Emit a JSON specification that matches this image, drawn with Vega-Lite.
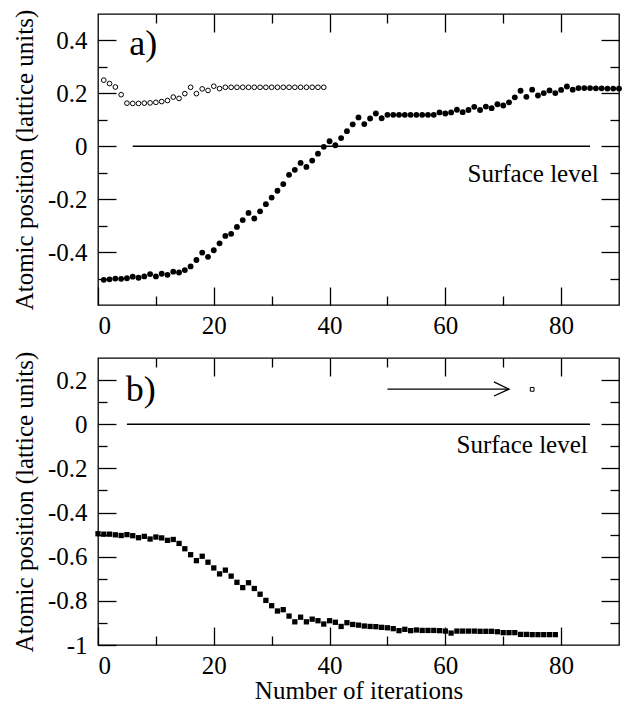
{
  "$schema": "https://vega.github.io/schema/vega-lite/v6.json",
  "padding": {"left": 11, "top": 8, "right": 5, "bottom": 5},
  "spacing": 11,
  "config": {
    "font": "Liberation Serif",
    "view": {"stroke": "black", "strokeWidth": 1.3},
    "axis": {"grid": false, "domain": false, "tickColor": "black", "tickWidth": 1.3, "labelFont": "Liberation Serif", "labelFontSize": 25, "labelColor": "black", "titleFont": "Liberation Serif", "titleFontSize": 25, "titleFontWeight": "normal", "titleColor": "black"}
  },
  "datasets": {
    "filledA": [
      {"it": 1, "pos": -0.505}, {"it": 2, "pos": -0.503}, {"it": 3, "pos": -0.5}, {"it": 4, "pos": -0.501}, {"it": 5, "pos": -0.499},
      {"it": 6, "pos": -0.493}, {"it": 7, "pos": -0.497}, {"it": 8, "pos": -0.492}, {"it": 9, "pos": -0.483}, {"it": 10, "pos": -0.492},
      {"it": 11, "pos": -0.482}, {"it": 12, "pos": -0.486}, {"it": 13, "pos": -0.474}, {"it": 14, "pos": -0.477}, {"it": 15, "pos": -0.468},
      {"it": 16, "pos": -0.454}, {"it": 17, "pos": -0.43}, {"it": 18, "pos": -0.402}, {"it": 19, "pos": -0.418}, {"it": 20, "pos": -0.393},
      {"it": 21, "pos": -0.367}, {"it": 22, "pos": -0.339}, {"it": 23, "pos": -0.331}, {"it": 24, "pos": -0.305}, {"it": 25, "pos": -0.279},
      {"it": 26, "pos": -0.252}, {"it": 27, "pos": -0.273}, {"it": 28, "pos": -0.246}, {"it": 29, "pos": -0.219}, {"it": 30, "pos": -0.194},
      {"it": 31, "pos": -0.168}, {"it": 32, "pos": -0.143}, {"it": 33, "pos": -0.108}, {"it": 34, "pos": -0.089}, {"it": 35, "pos": -0.063},
      {"it": 36, "pos": -0.078}, {"it": 37, "pos": -0.054}, {"it": 38, "pos": -0.028}, {"it": 39, "pos": -0.002}, {"it": 40, "pos": 0.019},
      {"it": 41, "pos": 0.004}, {"it": 42, "pos": 0.031}, {"it": 43, "pos": 0.057}, {"it": 44, "pos": 0.083}, {"it": 45, "pos": 0.109},
      {"it": 46, "pos": 0.084}, {"it": 47, "pos": 0.105}, {"it": 48, "pos": 0.124}, {"it": 49, "pos": 0.106}, {"it": 50, "pos": 0.119},
      {"it": 51, "pos": 0.119}, {"it": 52, "pos": 0.119}, {"it": 53, "pos": 0.119}, {"it": 54, "pos": 0.119}, {"it": 55, "pos": 0.119},
      {"it": 56, "pos": 0.119}, {"it": 57, "pos": 0.119}, {"it": 58, "pos": 0.119}, {"it": 59, "pos": 0.128}, {"it": 60, "pos": 0.124},
      {"it": 61, "pos": 0.128}, {"it": 62, "pos": 0.138}, {"it": 63, "pos": 0.129}, {"it": 64, "pos": 0.137}, {"it": 65, "pos": 0.149},
      {"it": 66, "pos": 0.137}, {"it": 67, "pos": 0.15}, {"it": 68, "pos": 0.144}, {"it": 69, "pos": 0.159}, {"it": 70, "pos": 0.154},
      {"it": 71, "pos": 0.166}, {"it": 72, "pos": 0.185}, {"it": 73, "pos": 0.21}, {"it": 74, "pos": 0.187}, {"it": 75, "pos": 0.214},
      {"it": 76, "pos": 0.192}, {"it": 77, "pos": 0.201}, {"it": 78, "pos": 0.211}, {"it": 79, "pos": 0.201}, {"it": 80, "pos": 0.213},
      {"it": 81, "pos": 0.226}, {"it": 82, "pos": 0.214}, {"it": 83, "pos": 0.22}, {"it": 84, "pos": 0.22}, {"it": 85, "pos": 0.22},
      {"it": 86, "pos": 0.219}, {"it": 87, "pos": 0.219}, {"it": 88, "pos": 0.218}, {"it": 89, "pos": 0.218}, {"it": 90, "pos": 0.218}
    ],
    "openA": [
      {"it": 1, "pos": 0.25}, {"it": 2, "pos": 0.237}, {"it": 3, "pos": 0.224}, {"it": 4, "pos": 0.195}, {"it": 5, "pos": 0.163},
      {"it": 6, "pos": 0.162}, {"it": 7, "pos": 0.162}, {"it": 8, "pos": 0.163}, {"it": 9, "pos": 0.164}, {"it": 10, "pos": 0.166},
      {"it": 11, "pos": 0.169}, {"it": 12, "pos": 0.173}, {"it": 13, "pos": 0.186}, {"it": 14, "pos": 0.181}, {"it": 15, "pos": 0.199},
      {"it": 16, "pos": 0.223}, {"it": 17, "pos": 0.199}, {"it": 18, "pos": 0.217}, {"it": 19, "pos": 0.211}, {"it": 20, "pos": 0.227},
      {"it": 21, "pos": 0.218}, {"it": 22, "pos": 0.223}, {"it": 23, "pos": 0.223}, {"it": 24, "pos": 0.223}, {"it": 25, "pos": 0.223},
      {"it": 26, "pos": 0.223}, {"it": 27, "pos": 0.223}, {"it": 28, "pos": 0.223}, {"it": 29, "pos": 0.223}, {"it": 30, "pos": 0.223},
      {"it": 31, "pos": 0.223}, {"it": 32, "pos": 0.223}, {"it": 33, "pos": 0.223}, {"it": 34, "pos": 0.223}, {"it": 35, "pos": 0.223},
      {"it": 36, "pos": 0.223}, {"it": 37, "pos": 0.223}, {"it": 38, "pos": 0.223}, {"it": 39, "pos": 0.223}
    ],
    "squaresB": [
      {"it": 0, "pos": -0.496}, {"it": 1, "pos": -0.498}, {"it": 2, "pos": -0.498}, {"it": 3, "pos": -0.501}, {"it": 4, "pos": -0.504},
      {"it": 5, "pos": -0.5}, {"it": 6, "pos": -0.505}, {"it": 7, "pos": -0.514}, {"it": 8, "pos": -0.508}, {"it": 9, "pos": -0.52},
      {"it": 10, "pos": -0.511}, {"it": 11, "pos": -0.515}, {"it": 12, "pos": -0.526}, {"it": 13, "pos": -0.522}, {"it": 14, "pos": -0.54},
      {"it": 15, "pos": -0.564}, {"it": 16, "pos": -0.591}, {"it": 17, "pos": -0.618}, {"it": 18, "pos": -0.598}, {"it": 19, "pos": -0.625},
      {"it": 20, "pos": -0.651}, {"it": 21, "pos": -0.678}, {"it": 22, "pos": -0.661}, {"it": 23, "pos": -0.688}, {"it": 24, "pos": -0.716},
      {"it": 25, "pos": -0.74}, {"it": 26, "pos": -0.718}, {"it": 27, "pos": -0.744}, {"it": 28, "pos": -0.77}, {"it": 29, "pos": -0.798},
      {"it": 30, "pos": -0.822}, {"it": 31, "pos": -0.846}, {"it": 32, "pos": -0.84}, {"it": 33, "pos": -0.869}, {"it": 34, "pos": -0.895},
      {"it": 35, "pos": -0.874}, {"it": 36, "pos": -0.895}, {"it": 37, "pos": -0.883}, {"it": 38, "pos": -0.89}, {"it": 39, "pos": -0.905},
      {"it": 40, "pos": -0.89}, {"it": 41, "pos": -0.897}, {"it": 42, "pos": -0.916}, {"it": 43, "pos": -0.899}, {"it": 44, "pos": -0.907},
      {"it": 45, "pos": -0.91}, {"it": 46, "pos": -0.914}, {"it": 47, "pos": -0.916}, {"it": 48, "pos": -0.917}, {"it": 49, "pos": -0.92},
      {"it": 50, "pos": -0.922}, {"it": 51, "pos": -0.926}, {"it": 52, "pos": -0.935}, {"it": 53, "pos": -0.929}, {"it": 54, "pos": -0.935},
      {"it": 55, "pos": -0.932}, {"it": 56, "pos": -0.934}, {"it": 57, "pos": -0.934}, {"it": 58, "pos": -0.934}, {"it": 59, "pos": -0.935},
      {"it": 60, "pos": -0.937}, {"it": 61, "pos": -0.946}, {"it": 62, "pos": -0.937}, {"it": 63, "pos": -0.937}, {"it": 64, "pos": -0.937},
      {"it": 65, "pos": -0.937}, {"it": 66, "pos": -0.938}, {"it": 67, "pos": -0.938}, {"it": 68, "pos": -0.938}, {"it": 69, "pos": -0.94},
      {"it": 70, "pos": -0.944}, {"it": 71, "pos": -0.944}, {"it": 72, "pos": -0.944}, {"it": 73, "pos": -0.952}, {"it": 74, "pos": -0.952},
      {"it": 75, "pos": -0.953}, {"it": 76, "pos": -0.953}, {"it": 77, "pos": -0.953}, {"it": 78, "pos": -0.953}, {"it": 79, "pos": -0.953}
    ]
  },
  "vconcat": [
    {
      "width": 521,
      "height": 291,
      "resolve": {"axis": {"x": "independent", "y": "independent"}},
      "layer": [
        {
          "data": {"name": "filledA"},
          "mark": {"type": "circle", "color": "black", "opacity": 1, "size": 34},
          "encoding": {
            "x": {"field": "it", "type": "quantitative", "scale": {"domain": [0, 90], "nice": false, "zero": false},
                  "axis": {"orient": "bottom", "values": [0, 20, 40, 60, 80], "tickSize": -18, "labelPadding": 26, "labelFont": "Liberation Serif", "title": null}},
            "y": {"field": "pos", "type": "quantitative", "scale": {"domain": [-0.6, 0.5], "nice": false, "zero": false},
                  "axis": {"orient": "left", "values": [-0.4, -0.2, 0, 0.2, 0.4], "tickSize": -18, "labelPadding": 29, "labelFont": "Liberation Serif",
                           "labelExpr": "(datum.value < 0 ? '-' : '') + format(abs(datum.value), '~g')",
                           "title": "Atomic position (lattice units)", "titleFont": "Liberation Serif", "titlePadding": 10}}
          }
        },
        {
          "data": {"name": "openA"},
          "mark": {"type": "point", "shape": "circle", "filled": false, "color": "black", "strokeWidth": 1, "size": 22, "opacity": 1},
          "encoding": {
            "x": {"field": "it", "type": "quantitative", "scale": {"domain": [0, 90], "nice": false, "zero": false},
                  "axis": {"orient": "bottom", "values": [10, 30, 50, 70], "tickSize": -9, "labels": false, "title": null}},
            "y": {"field": "pos", "type": "quantitative", "scale": {"domain": [-0.6, 0.5], "nice": false, "zero": false},
                  "axis": {"orient": "left", "values": [-0.5, -0.3, -0.1, 0.1, 0.3], "tickSize": -9, "labels": false, "title": null}}
          }
        },
        {
          "data": {"values": [{"x1": 6, "x2": 85, "y": 0}]},
          "mark": {"type": "rule", "color": "black", "strokeWidth": 1.3},
          "encoding": {
            "x": {"field": "x1", "type": "quantitative", "scale": {"domain": [0, 90], "nice": false, "zero": false},
                  "axis": {"orient": "top", "values": [20, 40, 60, 80], "tickSize": -18, "labels": false, "title": null}},
            "x2": {"field": "x2"},
            "y": {"field": "y", "type": "quantitative", "scale": {"domain": [-0.6, 0.5], "nice": false, "zero": false},
                  "axis": {"orient": "right", "values": [-0.4, -0.2, 0, 0.2, 0.4], "tickSize": -18, "labels": false, "title": null}}
          }
        },
        {
          "data": {"values": [{"x": 7.8, "y": 0.385, "label": "a)"}]},
          "mark": {"type": "text", "fontSize": 36, "font": "Liberation Serif", "color": "black", "align": "center", "baseline": "middle"},
          "encoding": {
            "x": {"field": "x", "type": "quantitative", "scale": {"domain": [0, 90], "nice": false, "zero": false},
                  "axis": {"orient": "top", "values": [10, 30, 50, 70], "tickSize": -9, "labels": false, "title": null}},
            "y": {"field": "y", "type": "quantitative", "scale": {"domain": [-0.6, 0.5], "nice": false, "zero": false},
                  "axis": {"orient": "right", "values": [-0.5, -0.3, -0.1, 0.1, 0.3], "tickSize": -9, "labels": false, "title": null}},
            "text": {"field": "label"}
          }
        },
        {
          "data": {"values": [{"x": 86.5, "y": -0.103, "label": "Surface level"}]},
          "mark": {"type": "text", "fontSize": 25, "font": "Liberation Serif", "color": "black", "align": "right", "baseline": "middle"},
          "encoding": {
            "x": {"field": "x", "type": "quantitative", "scale": {"domain": [0, 90], "nice": false, "zero": false}, "axis": null},
            "y": {"field": "y", "type": "quantitative", "scale": {"domain": [-0.6, 0.5], "nice": false, "zero": false}, "axis": null},
            "text": {"field": "label"}
          }
        }
      ]
    },
    {
      "width": 521,
      "height": 287,
      "resolve": {"axis": {"x": "independent", "y": "independent"}},
      "layer": [
        {
          "data": {"name": "squaresB"},
          "mark": {"type": "square", "color": "black", "opacity": 1, "size": 28},
          "encoding": {
            "x": {"field": "it", "type": "quantitative", "scale": {"domain": [0, 90], "nice": false, "zero": false},
                  "axis": {"orient": "bottom", "values": [0, 20, 40, 60, 80], "tickSize": -18, "labelPadding": 26, "labelFont": "Liberation Serif", "title": "Number of iterations", "titleFont": "Liberation Serif", "titlePadding": 0}},
            "y": {"field": "pos", "type": "quantitative", "scale": {"domain": [-1, 0.3], "nice": false, "zero": false},
                  "axis": {"orient": "left", "values": [-1, -0.8, -0.6, -0.4, -0.2, 0, 0.2], "tickSize": -18, "labelPadding": 29, "labelFont": "Liberation Serif",
                           "labelExpr": "(datum.value < 0 ? '-' : '') + format(abs(datum.value), '~g')",
                           "title": "Atomic position (lattice units)", "titleFont": "Liberation Serif", "titlePadding": 10}}
          }
        },
        {
          "data": {"values": [{"it": 75, "pos": 0.158}]},
          "mark": {"type": "point", "shape": "square", "filled": false, "color": "black", "strokeWidth": 1, "size": 14, "opacity": 1},
          "encoding": {
            "x": {"field": "it", "type": "quantitative", "scale": {"domain": [0, 90], "nice": false, "zero": false},
                  "axis": {"orient": "bottom", "values": [10, 30, 50, 70], "tickSize": -9, "labels": false, "title": null}},
            "y": {"field": "pos", "type": "quantitative", "scale": {"domain": [-1, 0.3], "nice": false, "zero": false},
                  "axis": {"orient": "left", "values": [-0.9, -0.7, -0.5, -0.3, -0.1, 0.1], "tickSize": -9, "labels": false, "title": null}}
          }
        },
        {
          "data": {"values": [{"x1": 5, "x2": 85, "y": 0}]},
          "mark": {"type": "rule", "color": "black", "strokeWidth": 1.3},
          "encoding": {
            "x": {"field": "x1", "type": "quantitative", "scale": {"domain": [0, 90], "nice": false, "zero": false},
                  "axis": {"orient": "top", "values": [20, 40, 60, 80], "tickSize": -18, "labels": false, "title": null}},
            "x2": {"field": "x2"},
            "y": {"field": "y", "type": "quantitative", "scale": {"domain": [-1, 0.3], "nice": false, "zero": false},
                  "axis": {"orient": "right", "values": [-0.8, -0.6, -0.4, -0.2, 0, 0.2], "tickSize": -18, "labels": false, "title": null}}
          }
        },
        {
          "data": {"values": [
            {"seg": "shaft", "i": 0, "x": 50, "y": 0.159},
            {"seg": "shaft", "i": 1, "x": 71, "y": 0.159},
            {"seg": "head", "i": 0, "x": 68.4, "y": 0.192},
            {"seg": "head", "i": 1, "x": 71, "y": 0.159},
            {"seg": "head", "i": 2, "x": 68.4, "y": 0.128}
          ]},
          "mark": {"type": "line", "color": "black", "strokeWidth": 1.3},
          "encoding": {
            "x": {"field": "x", "type": "quantitative", "scale": {"domain": [0, 90], "nice": false, "zero": false},
                  "axis": {"orient": "top", "values": [10, 30, 50, 70], "tickSize": -9, "labels": false, "title": null}},
            "y": {"field": "y", "type": "quantitative", "scale": {"domain": [-1, 0.3], "nice": false, "zero": false},
                  "axis": {"orient": "right", "values": [-0.9, -0.7, -0.5, -0.3, -0.1, 0.1], "tickSize": -9, "labels": false, "title": null}},
            "detail": {"field": "seg"},
            "order": {"field": "i"}
          }
        },
        {
          "data": {"values": [{"x": 7.4, "y": 0.153, "label": "b)"}]},
          "mark": {"type": "text", "fontSize": 36, "font": "Liberation Serif", "color": "black", "align": "center", "baseline": "middle"},
          "encoding": {
            "x": {"field": "x", "type": "quantitative", "scale": {"domain": [0, 90], "nice": false, "zero": false}, "axis": null},
            "y": {"field": "y", "type": "quantitative", "scale": {"domain": [-1, 0.3], "nice": false, "zero": false}, "axis": null},
            "text": {"field": "label"}
          }
        },
        {
          "data": {"values": [{"x": 84.6, "y": -0.093, "label": "Surface level"}]},
          "mark": {"type": "text", "fontSize": 25, "font": "Liberation Serif", "color": "black", "align": "right", "baseline": "middle"},
          "encoding": {
            "x": {"field": "x", "type": "quantitative", "scale": {"domain": [0, 90], "nice": false, "zero": false}, "axis": null},
            "y": {"field": "y", "type": "quantitative", "scale": {"domain": [-1, 0.3], "nice": false, "zero": false}, "axis": null},
            "text": {"field": "label"}
          }
        }
      ]
    }
  ]
}
